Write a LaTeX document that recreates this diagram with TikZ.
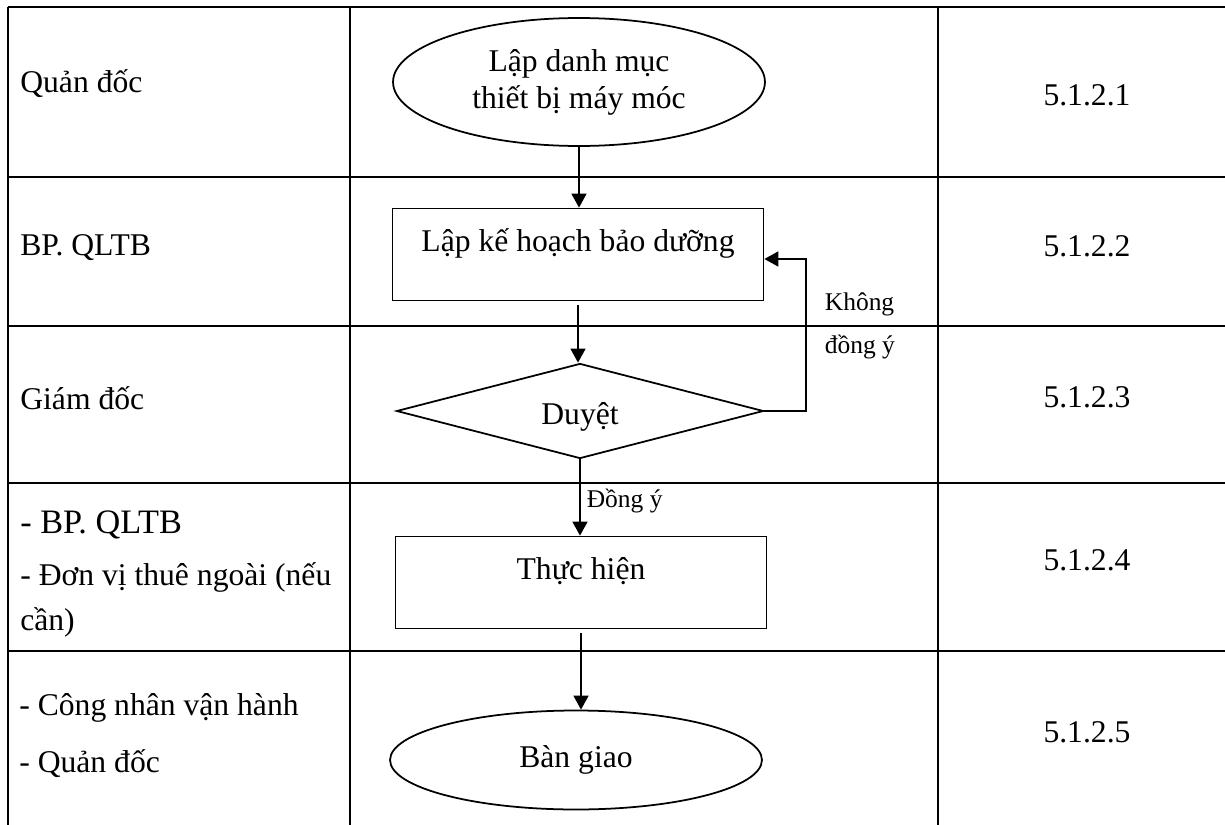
\documentclass[tikz,border=0pt]{standalone}
\usepackage{fontspec}
\setmainfont{Liberation Serif}
\usepackage{tikz}
\usetikzlibrary{shapes,arrows,positioning,calc,arrows.meta}

\begin{document}
\begin{tikzpicture}[x=0.02cm, y=-0.02cm,
    font=\fontsize{18}{21}\selectfont,
    grid/.style={line width=1.3pt},
    terminal/.style={draw, line width=1pt, ellipse, minimum width=7.44cm, inner sep=0pt, align=center},
    process/.style={draw, line width=1pt, rectangle, minimum width=7.42cm, inner sep=0pt, text height=0.86cm, text depth=0.98cm},
    decision/.style={draw, line width=1pt, diamond, aspect=3.86, minimum width=7.34cm, minimum height=1.9cm, inner sep=0pt, text height=0.62cm, text depth=0.1cm},
    role/.style={anchor=west, inner sep=0pt, align=left, font=\fontsize{18}{25.5}\selectfont},
    stepnum/.style={inner sep=0pt},
    flow/.style={-{Triangle[length=8pt, width=8.5pt]}, line width=1.1pt},
    note/.style={font=\fontsize{14.5}{24.5}\selectfont, align=left}]
    \useasboundingbox (0,0) rectangle (1225,825);

    \draw [grid] (8,7) -- (1225,7);
    \draw [grid] (8,177) -- (1225,177);
    \draw [grid] (8,326) -- (1225,326);
    \draw [grid] (8,483) -- (1225,483);
    \draw [grid] (8,651) -- (1225,651);
    \draw [grid] (8,7) -- (8,825);
    \draw [grid] (350,7) -- (350,825);
    \draw [grid] (938,7) -- (938,825);

    \node [role] (r1) at (20,84) {Quản đốc};
    \node [role] (r2) at (20,248) {BP. QLTB};
    \node [role] (r3) at (20,398) {Giám đốc};
    \node [role] (r4) at (20,574) {{\fontsize{19.5}{25.5}\selectfont - BP. QLTB}\\[4pt]- Đơn vị thuê ngoài (nếu\\cần)};
    \node [role] (r5) at (19,736) {- Công nhân vận hành\\[7pt]- Quản đốc};

    \node [terminal, minimum height=2.56cm] (start) at (579,82) {Lập danh mục\\thiết bị máy móc};
    \node [process] (plan) at (578,254.5) {Lập kế hoạch bảo dưỡng};
    \node [decision] (check) at (580,411) {Duyệt};
    \node [process] (do) at (581,582.5) {Thực hiện};
    \node [terminal, minimum height=1.98cm] (handover) at (576,760) {Bàn giao};

    \draw [flow] (start.south) -- (start.south |- plan.north);
    \draw [flow, shorten <=2pt] (plan.south) -- (plan.south |- check.north);
    \draw [flow] (check.south) -- node[note, right, pos=0.55] {Đồng ý} (check.south |- do.north);
    \draw [flow, shorten <=2pt] (do.south) -- (do.south |- handover.north);
    \draw [flow] (check.east) -- ++(42,0) |- node[note, right, pos=0.28, inner xsep=10pt] {Không\\đồng ý} ([yshift=-0.09cm]plan.east);

    \node [stepnum] (n1) at (1087,95) {5.1.2.1};
    \node [stepnum] (n2) at (1087,246) {5.1.2.2};
    \node [stepnum] (n3) at (1087,397) {5.1.2.3};
    \node [stepnum] (n4) at (1087,560) {5.1.2.4};
    \node [stepnum] (n5) at (1087,732) {5.1.2.5};
\end{tikzpicture}
\end{document}
